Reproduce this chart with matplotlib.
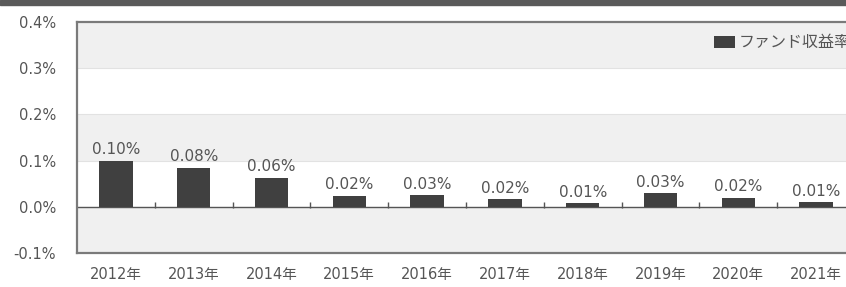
import matplotlib.pyplot as plt
import numpy as np

plt.rcParams['font.family'] = ['DejaVu Sans', 'Noto Sans CJK JP']

years = ['2012年', '2013年', '2014年', '2015年', '2016年',
         '2017年', '2018年', '2019年', '2020年', '2021年']
returns = [0.100, 0.085, 0.063, 0.024, 0.026, 0.017, 0.008, 0.030, 0.020, 0.010]
value_labels = ['0.10%', '0.08%', '0.06%', '0.02%', '0.03%',
                '0.02%', '0.01%', '0.03%', '0.02%', '0.01%']
y_ticks = [-0.1, 0.0, 0.1, 0.2, 0.3, 0.4]
y_ticklabels = ['-0.1%', '0.0%', '0.1%', '0.2%', '0.3%', '0.4%']

fig = plt.figure(figsize=(8.46, 2.87), dpi=100)
# dark strip at the top
fig.patches.append(plt.Rectangle((0, 0.982), 1, 0.018, transform=fig.transFigure,
                                 color='#5a5a5a', zorder=0))

# axes runs past the right edge, like the cropped original
ax = fig.add_axes([77 / 846, 1 - 253 / 287, 778 / 846, 231 / 287])
x = np.arange(len(years))
ax.set_xlim(-0.5, len(years) - 0.5)
ax.set_ylim(-0.1, 0.4)

# alternating bands
for i, (lo, hi) in enumerate(zip(y_ticks[:-1], y_ticks[1:])):
    ax.axhspan(lo, hi, color='#f0f0f0' if i % 2 == 0 else 'white', zorder=0, lw=0)
for t in y_ticks[1:-1]:
    ax.axhline(t, color='#e2e2e2', lw=0.8, zorder=1)

ax.bar(x, returns, width=0.43, color='#404040', zorder=3, label='ファンド収益率')
for xi, h, lab in zip(x, returns, value_labels):
    ax.text(xi, h + 0.007, lab, ha='center', va='bottom', fontsize=11, color='#555555')

# zero line with small category ticks
ax.axhline(0, color='#555555', lw=1.0, zorder=2)
bounds = x[:-1] + 0.5
ax.plot(bounds, np.zeros_like(bounds) + 0.004, ls='none', marker='|',
        ms=5, color='#555555', zorder=2)

ax.set_yticks(y_ticks)
ax.set_yticklabels(y_ticklabels, fontsize=10.5, color='#555555')
ax.set_xticks(x)
ax.set_xticklabels(years, fontsize=10.5, color='#555555')
ax.tick_params(length=0)
ax.tick_params(axis='y', pad=15)
ax.tick_params(axis='x', pad=10)

for s in ['top', 'left', 'bottom', 'right']:
    ax.spines[s].set_color('#7a7a7a')
    ax.spines[s].set_linewidth(1.6)

fig.legend(loc='upper left', bbox_to_anchor=(708 / 846, 1 - 29 / 287), frameon=False,
           fontsize=11.5, handlelength=1.3, handleheight=0.8, handletextpad=0.2,
           labelcolor='#555555', borderaxespad=0)

fig.savefig('out.png', dpi=100)
